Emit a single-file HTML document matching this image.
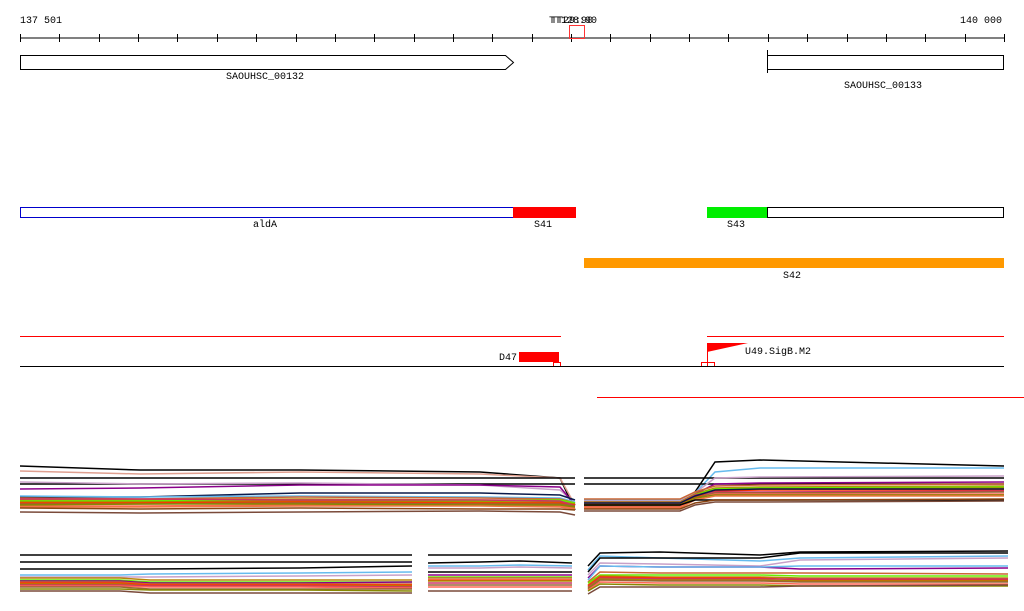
<!DOCTYPE html>
<html><head><meta charset="utf-8"><style>
html,body{margin:0;padding:0;background:#fff;width:1024px;height:611px;overflow:hidden}
svg{display:block;font-family:"Liberation Mono","DejaVu Sans Mono",monospace;font-size:10px}
</style></head><body>
<svg id="c" width="1024" height="611" viewBox="0 0 1024 611">
<g>
<line x1="20" y1="38" x2="1004" y2="38" stroke="#000"/>
<g id="ticks"></g>
<text x="20" y="23">137 501</text>
<text x="1002" y="23" text-anchor="end">140 000</text>
<text x="549" y="23">TT128:90</text>
<text x="551" y="23">TT29:90</text>
<rect x="569.5" y="25.5" width="15" height="13" fill="none" stroke="#f33"/>
</g>
<g>
<path d="M20.5 55.5H505.5L513.5 62.5L505.5 69.5H20.5Z" fill="#fff" stroke="#000"/>
<text x="265" y="79" text-anchor="middle">SAOUHSC_00132</text>
<rect x="767.5" y="55.5" width="236" height="14" fill="#fff" stroke="#000"/>
<line x1="767.5" y1="50" x2="767.5" y2="73" stroke="#000"/>
<text x="883" y="88" text-anchor="middle">SAOUHSC_00133</text>
</g>
<g>
<rect x="20.5" y="207.5" width="493" height="10" fill="#fff" stroke="#00c"/>
<rect x="513" y="207" width="63" height="11" fill="#f00"/>
<rect x="707" y="207" width="60" height="11" fill="#0e0"/>
<rect x="767.5" y="207.5" width="236" height="10" fill="#fff" stroke="#000"/>
<text x="265" y="227" text-anchor="middle">aldA</text>
<text x="543" y="227" text-anchor="middle">S41</text>
<text x="736" y="227" text-anchor="middle">S43</text>
<rect x="584" y="258" width="420" height="10" fill="#f90"/>
<text x="792" y="278" text-anchor="middle">S42</text>
</g>
<g>
<line x1="20" y1="336.5" x2="561" y2="336.5" stroke="#f00"/>
<line x1="707" y1="336.5" x2="1004" y2="336.5" stroke="#f00"/>
<text x="499" y="360">D47</text>
<rect x="519" y="352" width="40" height="10" fill="#f00"/>
<rect x="553.5" y="362.5" width="7" height="4" fill="none" stroke="#f00"/>
<path d="M707.5 343.5V366" stroke="#f00"/>
<path d="M707 343H748L707 352Z" fill="#f00"/>
<rect x="701.5" y="362.5" width="13" height="4" fill="none" stroke="#f00"/>
<text x="745" y="354">U49.SigB.M2</text>
<line x1="20" y1="366.5" x2="1004" y2="366.5" stroke="#000"/>
<line x1="597" y1="397.5" x2="1024" y2="397.5" stroke="#f00"/>
</g>
<g id="expr"></g>
</svg>
<script>
const tickCount = 25;
const colors = ["#000","#e0a090","#c8a0c8","#8b008b","#0a1a4a","#66bbee","#cc6633","#b8860b","#66ee00","#8b4513","#ff3300","#ff6655","#996633","#aa8800","#cc3366","#888800","#7a4a3a","#ee7744","#9966aa"];
const knotsTL = [20,140,300,480,560,575];
const seriesTL = [
[0,466,470,470,472,478,510],[1,471,474,472,474,478,505],[0,478,478,478,478,478,478],[0,484,484,484,484,484,484],
[2,482,484,483,485,490,503],[3,489,488,485,485,487,505],[4,497,497,493,493,495,500],[5,496,497,496,497,498,502],
[6,498,499,497,498,499,503],[7,500,500,499,500,500,504],[8,501,501,500,501,500,503],[13,502,502,501,502,502,504],
[10,503,503,502,503,503,505],[14,499,499,500,500,501,506],[12,504,504,503,504,504,506],[11,506,506,505,505,506,508],
[15,505,504,504,505,505,507],[17,507,507,506,506,507,509],[16,512,513,512,511,512,515],[9,508,509,508,509,509,510]
];
const knotsTR = [584,680,695,715,760,1004];
const seriesTR = [
[0,500,500,492,462,460,466],[5,500,500,493,472,468,468],[0,478,478,478,478,478,478],[0,484,484,484,484,484,484],
[2,501,501,493,478,477,476],[3,502,502,494,484,483,482],[6,499,499,492,486,485,484],[7,502,502,494,488,487,486],
[8,503,503,495,489,488,487],[13,504,504,496,490,489,488],[10,505,505,497,491,490,490],[14,503,503,495,492,492,491],
[4,503,503,496,490,489,489],[12,506,506,498,493,493,492],[11,507,507,499,494,494,494],[15,505,505,498,495,495,495],
[17,508,508,500,496,496,496],[0,505,505,500,500,500,500],[16,511,511,505,502,502,501],[9,509,509,503,500,500,499]
];
const knotsBL = [20,120,150,300,412];
const knotsBM = [428,480,520,572];
const knotsBR = [588,600,660,760,800,1008];
const seriesBL = [
[0,555,555,555,555,555],[0,562,562,562,562,562],[0,569,569,569,568,566],[5,575,575,574,573,572],[2,577,577,577,576,575],
[7,578,578,580,580,580],[8,580,580,582,582,582],[3,581,581,583,583,582],[6,582,582,584,584,584],[10,583,583,585,585,585],
[13,584,584,586,586,586],[14,585,585,586,586,587],[11,586,586,587,587,588],[12,587,587,589,589,589],[15,589,589,590,590,591],[16,591,591,593,593,593]
];
const seriesBM = [
[0,555,555,555,555],[0,563,562,561,563],[5,566,566,565,566],[2,568,568,567,568],[0,572,572,572,572],[3,575,575,575,575],
[8,577,577,577,577],[6,578,578,578,578],[10,580,580,580,580],[13,581,581,581,581],[14,583,583,583,583],[12,585,585,585,585],
[11,587,587,587,587],[16,591,591,591,591]
];
const seriesBR = [
[0,566,553,552,555,552,551],[5,570,556,558,561,558,556],[0,572,558,558,558,553,553],[2,575,563,564,566,560,558],
[3,578,566,567,567,569,568],[5,580,566,567,567,566,566],[6,582,572,573,573,573,574],[8,583,575,575,575,576,576],
[7,585,576,577,577,578,578],[10,586,577,578,578,580,580],[14,587,578,579,579,579,579],[13,588,579,580,580,581,581],
[12,589,580,581,581,582,582],[11,590,582,583,583,584,584],[15,591,584,585,585,586,586],[16,594,587,587,587,586,585]
];
const tg=document.getElementById('ticks');
const ax0=20, ax1=1004;
for(let i=0;i<=tickCount;i++){
  const x=Math.round(ax0+(ax1-ax0)*i/tickCount)+0.5;
  const t=document.createElementNS('http://www.w3.org/2000/svg','line');
  
  
  t.setAttribute('x1',x);t.setAttribute('x2',x);t.setAttribute('y1',34);t.setAttribute('y2',42);t.setAttribute('stroke','#000');
  tg.appendChild(t);
}
const eg=document.getElementById('expr');
function panel(knots,series,name){
  series.forEach(s=>{
    const p=document.createElementNS('http://www.w3.org/2000/svg','polyline');
    
    
    p.setAttribute('points',knots.map((x,i)=>x+','+s[i+1]).join(' '));
    p.setAttribute('fill','none');p.setAttribute('stroke',colors[s[0]]);p.setAttribute('stroke-width','1.5');
    eg.appendChild(p);
  });
}
panel(knotsTL,seriesTL,'top-left');
panel(knotsTR,seriesTR,'top-right');
panel(knotsBL,seriesBL,'bottom-left');
panel(knotsBM,seriesBM,'bottom-middle');
panel(knotsBR,seriesBR,'bottom-right');
</script>
</body></html>
